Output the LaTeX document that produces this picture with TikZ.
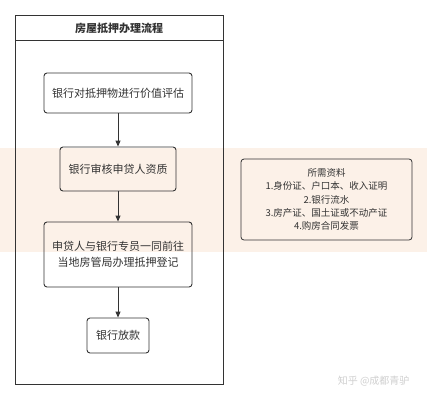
\documentclass[tikz,border=0pt]{standalone}
\usepackage{fontspec}
\setmainfont{Noto Sans CJK SC}
\usetikzlibrary{arrows.meta}
\definecolor{lnc}{HTML}{333333}
\definecolor{band}{HTML}{FCF1E8}
\definecolor{wm}{HTML}{D0D0D0}
\tikzset{
  stepbox/.style={draw=lnc, line width=0.9pt, rounded corners=3pt, align=center, inner sep=0pt, font=\fontsize{11}{16}\selectfont, text=lnc},
  infobox/.style={draw=lnc, line width=0.8pt, rounded corners=3pt, align=center, inner sep=0pt, font=\fontsize{9.5}{13.3}\selectfont, text=lnc},
  flow/.style={draw=lnc, line width=0.9pt, -{Triangle[length=6pt,width=5pt]}}
}
\begin{document}
\begin{tikzpicture}[x=1pt,y=-1pt]
\useasboundingbox (0,0) rectangle (427,400);
\fill[white] (0,0) rectangle (427,400);
% watermark band
\fill[band] (0,148) rectangle (427,252);
% pool
\draw[lnc, line width=0.9pt] (15,15) rectangle (223,384);
\draw[lnc, line width=0.9pt] (15,40) -- (223,40);
\node[font=\fontsize{11}{12}\bfseries\selectfont, text=lnc] (title) at (119,28) {房屋抵押办理流程};
% steps
\node[stepbox, minimum width=148pt, minimum height=40pt] (s1) at (118,93) {银行对抵押物进行价值评估};
\node[stepbox, minimum width=116pt, minimum height=44pt] (s2) at (118,169) {银行审核申贷人资质};
\node[stepbox, minimum width=148pt, minimum height=65pt] (s3) at (118,254.5) {申贷人与银行专员一同前往\\当地房管局办理抵押登记};
\node[stepbox, minimum width=62pt, minimum height=35pt] (s4) at (118,335.5) {银行放款};
\draw[flow] (s1) -- (s2);
\draw[flow] (s2) -- (s3);
\draw[flow] (s3) -- (s4);
% info box
\node[infobox, minimum width=171pt, minimum height=81pt] (info) at (326.5,199.5) {所需资料\\1.身份证、户口本、收入证明\\2.银行流水\\3.房产证、国土证或不动产证\\4.购房合同发票};
% watermark
\node[text=wm, font=\fontsize{10}{11}\selectfont, anchor=east] (zh) at (413,381) {知乎 @成都青驴};
\end{tikzpicture}
\end{document}
